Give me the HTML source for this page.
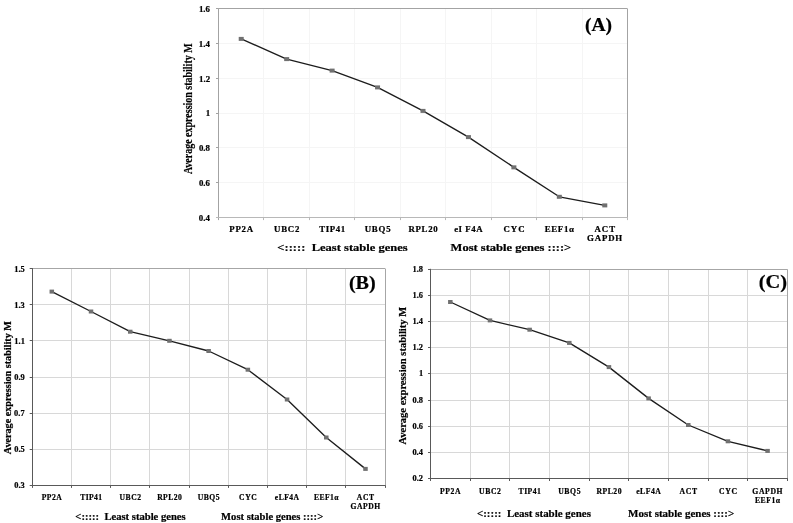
<!DOCTYPE html>
<html><head><meta charset="utf-8"><style>
html,body{margin:0;padding:0;background:#fff;}
svg{display:block;will-change:transform;}
#w{width:793px;height:523px;}
text{font-family:"Liberation Serif",serif;font-weight:bold;stroke:#000;stroke-width:0.2px;}
</style></head><body>
<div id="w"><svg width="793" height="523" viewBox="0 0 793 523">
<rect width="793" height="523" fill="#fff"/>
<line x1="218.50" y1="43.50" x2="627.50" y2="43.50" stroke="#f5f5f5" stroke-width="1"/>
<line x1="218.50" y1="78.50" x2="627.50" y2="78.50" stroke="#f5f5f5" stroke-width="1"/>
<line x1="218.50" y1="113.50" x2="627.50" y2="113.50" stroke="#f5f5f5" stroke-width="1"/>
<line x1="218.50" y1="147.50" x2="627.50" y2="147.50" stroke="#f5f5f5" stroke-width="1"/>
<line x1="218.50" y1="182.50" x2="627.50" y2="182.50" stroke="#f5f5f5" stroke-width="1"/>
<line x1="263.50" y1="8.75" x2="263.50" y2="217.60" stroke="#f5f5f5" stroke-width="1"/>
<line x1="309.50" y1="8.75" x2="309.50" y2="217.60" stroke="#f5f5f5" stroke-width="1"/>
<line x1="354.50" y1="8.75" x2="354.50" y2="217.60" stroke="#f5f5f5" stroke-width="1"/>
<line x1="400.50" y1="8.75" x2="400.50" y2="217.60" stroke="#f5f5f5" stroke-width="1"/>
<line x1="445.50" y1="8.75" x2="445.50" y2="217.60" stroke="#f5f5f5" stroke-width="1"/>
<line x1="491.50" y1="8.75" x2="491.50" y2="217.60" stroke="#f5f5f5" stroke-width="1"/>
<line x1="536.50" y1="8.75" x2="536.50" y2="217.60" stroke="#f5f5f5" stroke-width="1"/>
<line x1="582.50" y1="8.75" x2="582.50" y2="217.60" stroke="#f5f5f5" stroke-width="1"/>
<line x1="218.50" y1="8.50" x2="627.50" y2="8.50" stroke="#a3a3a3" stroke-width="1"/>
<line x1="627.50" y1="8.75" x2="627.50" y2="217.60" stroke="#a3a3a3" stroke-width="1"/>
<line x1="218.50" y1="8.25" x2="218.50" y2="220.10" stroke="#a3a3a3" stroke-width="1"/>
<line x1="216.00" y1="217.50" x2="628.00" y2="217.50" stroke="#b8b8b8" stroke-width="1"/>
<line x1="216.00" y1="8.50" x2="218.50" y2="8.50" stroke="#a3a3a3" stroke-width="1"/>
<line x1="216.00" y1="43.50" x2="218.50" y2="43.50" stroke="#a3a3a3" stroke-width="1"/>
<line x1="216.00" y1="78.50" x2="218.50" y2="78.50" stroke="#a3a3a3" stroke-width="1"/>
<line x1="216.00" y1="113.50" x2="218.50" y2="113.50" stroke="#a3a3a3" stroke-width="1"/>
<line x1="216.00" y1="147.50" x2="218.50" y2="147.50" stroke="#a3a3a3" stroke-width="1"/>
<line x1="216.00" y1="182.50" x2="218.50" y2="182.50" stroke="#a3a3a3" stroke-width="1"/>
<line x1="263.50" y1="217.60" x2="263.50" y2="220.10" stroke="#b8b8b8" stroke-width="1"/>
<line x1="309.50" y1="217.60" x2="309.50" y2="220.10" stroke="#b8b8b8" stroke-width="1"/>
<line x1="354.50" y1="217.60" x2="354.50" y2="220.10" stroke="#b8b8b8" stroke-width="1"/>
<line x1="400.50" y1="217.60" x2="400.50" y2="220.10" stroke="#b8b8b8" stroke-width="1"/>
<line x1="445.50" y1="217.60" x2="445.50" y2="220.10" stroke="#b8b8b8" stroke-width="1"/>
<line x1="491.50" y1="217.60" x2="491.50" y2="220.10" stroke="#b8b8b8" stroke-width="1"/>
<line x1="536.50" y1="217.60" x2="536.50" y2="220.10" stroke="#b8b8b8" stroke-width="1"/>
<line x1="582.50" y1="217.60" x2="582.50" y2="220.10" stroke="#b8b8b8" stroke-width="1"/>
<line x1="627.50" y1="217.60" x2="627.50" y2="220.10" stroke="#b8b8b8" stroke-width="1"/>
<path d="M241.22,38.90 L286.67,59.10 L332.11,70.60 L377.56,87.40 L423.00,110.90 L468.44,137.10 L513.89,167.35 L559.33,196.80 L604.78,205.40" fill="none" stroke="#1c1c1c" stroke-width="1.35" stroke-linejoin="round"/>
<rect x="238.72" y="36.90" width="5" height="4" fill="#707070"/>
<rect x="284.17" y="57.10" width="5" height="4" fill="#707070"/>
<rect x="329.61" y="68.60" width="5" height="4" fill="#707070"/>
<rect x="375.06" y="85.40" width="5" height="4" fill="#707070"/>
<rect x="420.50" y="108.90" width="5" height="4" fill="#707070"/>
<rect x="465.94" y="135.10" width="5" height="4" fill="#707070"/>
<rect x="511.39" y="165.35" width="5" height="4" fill="#707070"/>
<rect x="556.83" y="194.80" width="5" height="4" fill="#707070"/>
<rect x="602.28" y="203.40" width="5" height="4" fill="#707070"/>
<text transform="translate(198.94,12.06) scale(1.1600,1)" font-size="7.60" fill="#000">1.6</text>
<text transform="translate(198.85,46.87) scale(1.1600,1)" font-size="7.60" fill="#000">1.4</text>
<text transform="translate(199.06,81.67) scale(1.1600,1)" font-size="7.60" fill="#000">1.2</text>
<text transform="translate(205.75,116.48) scale(1.1600,1)" font-size="7.60" fill="#000">1</text>
<text transform="translate(198.97,151.29) scale(1.1600,1)" font-size="7.60" fill="#000">0.8</text>
<text transform="translate(198.94,186.10) scale(1.1600,1)" font-size="7.60" fill="#000">0.6</text>
<text transform="translate(198.85,220.91) scale(1.1600,1)" font-size="7.60" fill="#000">0.4</text>
<text transform="translate(229.27,232.40) scale(1.1600,1)" font-size="7.60" letter-spacing="0.650" fill="#000">PP2A</text>
<text transform="translate(274.05,232.40) scale(1.1600,1)" font-size="7.60" letter-spacing="0.683" fill="#000">UBC2</text>
<text transform="translate(319.30,232.40) scale(1.1600,1)" font-size="7.60" letter-spacing="0.523" fill="#000">TIP41</text>
<text transform="translate(364.64,232.40) scale(1.1600,1)" font-size="7.60" letter-spacing="0.699" fill="#000">UBQ5</text>
<text transform="translate(408.49,232.40) scale(1.1600,1)" font-size="7.60" letter-spacing="0.593" fill="#000">RPL20</text>
<text transform="translate(454.13,232.40) scale(1.1600,1)" font-size="7.60" letter-spacing="0.463" fill="#000">eI F4A</text>
<text transform="translate(503.51,232.40) scale(1.1600,1)" font-size="7.60" letter-spacing="0.822" fill="#000">CYC</text>
<text transform="translate(544.68,232.40) scale(1.1600,1)" font-size="7.60" letter-spacing="0.599" fill="#000">EEF1α</text>
<text transform="translate(594.52,232.40) scale(1.1600,1)" font-size="7.60" letter-spacing="0.840" fill="#000">ACT</text>
<text transform="translate(587.06,241.30) scale(1.1600,1)" font-size="7.60" letter-spacing="0.714" fill="#000">GAPDH</text>
<text transform="translate(191.60,174.10) rotate(-90) scale(0.7924,1)" font-size="12.60" fill="#000">Average expression stability M</text>
<text transform="translate(584.94,31.40) scale(0.9969,1)" font-size="19.60" fill="#000">(A)</text>
<text transform="translate(277.37,250.90) scale(1.2938,1)" font-size="9.70" fill="#000">&lt;:::::  Least stable genes</text>
<text transform="translate(450.59,250.90) scale(1.2892,1)" font-size="9.70" fill="#000">Most stable genes ::::&gt;</text>
<line x1="32.20" y1="304.50" x2="385.10" y2="304.50" stroke="#d8d8d8" stroke-width="1"/>
<line x1="32.20" y1="340.50" x2="385.10" y2="340.50" stroke="#d8d8d8" stroke-width="1"/>
<line x1="32.20" y1="377.50" x2="385.10" y2="377.50" stroke="#d8d8d8" stroke-width="1"/>
<line x1="32.20" y1="413.50" x2="385.10" y2="413.50" stroke="#d8d8d8" stroke-width="1"/>
<line x1="32.20" y1="449.50" x2="385.10" y2="449.50" stroke="#d8d8d8" stroke-width="1"/>
<line x1="71.50" y1="268.60" x2="71.50" y2="485.40" stroke="#d8d8d8" stroke-width="1"/>
<line x1="110.50" y1="268.60" x2="110.50" y2="485.40" stroke="#d8d8d8" stroke-width="1"/>
<line x1="149.50" y1="268.60" x2="149.50" y2="485.40" stroke="#d8d8d8" stroke-width="1"/>
<line x1="189.50" y1="268.60" x2="189.50" y2="485.40" stroke="#d8d8d8" stroke-width="1"/>
<line x1="228.50" y1="268.60" x2="228.50" y2="485.40" stroke="#d8d8d8" stroke-width="1"/>
<line x1="267.50" y1="268.60" x2="267.50" y2="485.40" stroke="#d8d8d8" stroke-width="1"/>
<line x1="306.50" y1="268.60" x2="306.50" y2="485.40" stroke="#d8d8d8" stroke-width="1"/>
<line x1="345.50" y1="268.60" x2="345.50" y2="485.40" stroke="#d8d8d8" stroke-width="1"/>
<line x1="32.20" y1="268.50" x2="385.10" y2="268.50" stroke="#a6a6a6" stroke-width="1"/>
<line x1="385.50" y1="268.60" x2="385.50" y2="485.40" stroke="#a6a6a6" stroke-width="1"/>
<line x1="32.50" y1="268.10" x2="32.50" y2="487.90" stroke="#595959" stroke-width="1"/>
<line x1="29.70" y1="485.50" x2="385.60" y2="485.50" stroke="#595959" stroke-width="1"/>
<line x1="29.70" y1="268.50" x2="32.20" y2="268.50" stroke="#595959" stroke-width="1"/>
<line x1="29.70" y1="304.50" x2="32.20" y2="304.50" stroke="#595959" stroke-width="1"/>
<line x1="29.70" y1="340.50" x2="32.20" y2="340.50" stroke="#595959" stroke-width="1"/>
<line x1="29.70" y1="377.50" x2="32.20" y2="377.50" stroke="#595959" stroke-width="1"/>
<line x1="29.70" y1="413.50" x2="32.20" y2="413.50" stroke="#595959" stroke-width="1"/>
<line x1="29.70" y1="449.50" x2="32.20" y2="449.50" stroke="#595959" stroke-width="1"/>
<line x1="71.50" y1="485.40" x2="71.50" y2="487.90" stroke="#595959" stroke-width="1"/>
<line x1="110.50" y1="485.40" x2="110.50" y2="487.90" stroke="#595959" stroke-width="1"/>
<line x1="149.50" y1="485.40" x2="149.50" y2="487.90" stroke="#595959" stroke-width="1"/>
<line x1="189.50" y1="485.40" x2="189.50" y2="487.90" stroke="#595959" stroke-width="1"/>
<line x1="228.50" y1="485.40" x2="228.50" y2="487.90" stroke="#595959" stroke-width="1"/>
<line x1="267.50" y1="485.40" x2="267.50" y2="487.90" stroke="#595959" stroke-width="1"/>
<line x1="306.50" y1="485.40" x2="306.50" y2="487.90" stroke="#595959" stroke-width="1"/>
<line x1="345.50" y1="485.40" x2="345.50" y2="487.90" stroke="#595959" stroke-width="1"/>
<line x1="385.50" y1="485.40" x2="385.50" y2="487.90" stroke="#595959" stroke-width="1"/>
<path d="M51.81,291.60 L91.02,311.50 L130.23,331.70 L169.44,340.80 L208.65,351.00 L247.86,369.70 L287.07,399.50 L326.28,437.50 L365.49,468.90" fill="none" stroke="#1c1c1c" stroke-width="1.35" stroke-linejoin="round"/>
<rect x="49.56" y="289.60" width="4.5" height="4" fill="#707070"/>
<rect x="88.77" y="309.50" width="4.5" height="4" fill="#707070"/>
<rect x="127.98" y="329.70" width="4.5" height="4" fill="#707070"/>
<rect x="167.19" y="338.80" width="4.5" height="4" fill="#707070"/>
<rect x="206.40" y="349.00" width="4.5" height="4" fill="#707070"/>
<rect x="245.61" y="367.70" width="4.5" height="4" fill="#707070"/>
<rect x="284.82" y="397.50" width="4.5" height="4" fill="#707070"/>
<rect x="324.03" y="435.50" width="4.5" height="4" fill="#707070"/>
<rect x="363.24" y="466.90" width="4.5" height="4" fill="#707070"/>
<text transform="translate(14.21,271.58) scale(1.1200,1)" font-size="7.50" fill="#000">1.5</text>
<text transform="translate(14.19,307.71) scale(1.1200,1)" font-size="7.50" fill="#000">1.3</text>
<text transform="translate(14.34,343.84) scale(1.1200,1)" font-size="7.50" fill="#000">1.1</text>
<text transform="translate(14.20,379.98) scale(1.1200,1)" font-size="7.50" fill="#000">0.9</text>
<text transform="translate(14.10,416.11) scale(1.1200,1)" font-size="7.50" fill="#000">0.7</text>
<text transform="translate(14.21,452.24) scale(1.1200,1)" font-size="7.50" fill="#000">0.5</text>
<text transform="translate(14.19,488.38) scale(1.1200,1)" font-size="7.50" fill="#000">0.3</text>
<text transform="translate(41.69,500.00) scale(1.0600,1)" font-size="7.20" letter-spacing="0.470" fill="#000">PP2A</text>
<text transform="translate(80.17,500.00) scale(1.0600,1)" font-size="7.20" letter-spacing="0.379" fill="#000">TIP41</text>
<text transform="translate(119.55,500.00) scale(1.0600,1)" font-size="7.20" letter-spacing="0.494" fill="#000">UBC2</text>
<text transform="translate(157.16,500.00) scale(1.0600,1)" font-size="7.20" letter-spacing="0.429" fill="#000">RPL20</text>
<text transform="translate(197.71,500.00) scale(1.0600,1)" font-size="7.20" letter-spacing="0.506" fill="#000">UBQ5</text>
<text transform="translate(239.07,500.00) scale(1.0600,1)" font-size="7.20" letter-spacing="0.595" fill="#000">CYC</text>
<text transform="translate(274.84,500.00) scale(1.0600,1)" font-size="7.20" letter-spacing="0.423" fill="#000">eLF4A</text>
<text transform="translate(313.88,500.00) scale(1.0600,1)" font-size="7.20" letter-spacing="0.434" fill="#000">EEF1α</text>
<text transform="translate(356.81,500.00) scale(1.0600,1)" font-size="7.20" letter-spacing="0.608" fill="#000">ACT</text>
<text transform="translate(350.50,509.30) scale(1.0600,1)" font-size="7.20" letter-spacing="0.517" fill="#000">GAPDH</text>
<text transform="translate(10.60,454.20) rotate(-90) scale(1.0703,1)" font-size="9.50" fill="#000">Average expression stability M</text>
<text transform="translate(348.91,288.70) scale(1.0182,1)" font-size="19.80" fill="#000">(B)</text>
<text transform="translate(75.37,520.20) scale(1.1301,1)" font-size="9.40" fill="#000">&lt;:::::  Least stable genes</text>
<text transform="translate(221.12,520.20) scale(1.1260,1)" font-size="9.40" fill="#000">Most stable genes ::::&gt;</text>
<line x1="430.50" y1="295.50" x2="787.40" y2="295.50" stroke="#d8d8d8" stroke-width="1"/>
<line x1="430.50" y1="321.50" x2="787.40" y2="321.50" stroke="#d8d8d8" stroke-width="1"/>
<line x1="430.50" y1="347.50" x2="787.40" y2="347.50" stroke="#d8d8d8" stroke-width="1"/>
<line x1="430.50" y1="373.50" x2="787.40" y2="373.50" stroke="#d8d8d8" stroke-width="1"/>
<line x1="430.50" y1="400.50" x2="787.40" y2="400.50" stroke="#d8d8d8" stroke-width="1"/>
<line x1="430.50" y1="426.50" x2="787.40" y2="426.50" stroke="#d8d8d8" stroke-width="1"/>
<line x1="430.50" y1="452.50" x2="787.40" y2="452.50" stroke="#d8d8d8" stroke-width="1"/>
<line x1="470.50" y1="269.30" x2="470.50" y2="478.50" stroke="#d8d8d8" stroke-width="1"/>
<line x1="509.50" y1="269.30" x2="509.50" y2="478.50" stroke="#d8d8d8" stroke-width="1"/>
<line x1="549.50" y1="269.30" x2="549.50" y2="478.50" stroke="#d8d8d8" stroke-width="1"/>
<line x1="589.50" y1="269.30" x2="589.50" y2="478.50" stroke="#d8d8d8" stroke-width="1"/>
<line x1="628.50" y1="269.30" x2="628.50" y2="478.50" stroke="#d8d8d8" stroke-width="1"/>
<line x1="668.50" y1="269.30" x2="668.50" y2="478.50" stroke="#d8d8d8" stroke-width="1"/>
<line x1="708.50" y1="269.30" x2="708.50" y2="478.50" stroke="#d8d8d8" stroke-width="1"/>
<line x1="747.50" y1="269.30" x2="747.50" y2="478.50" stroke="#d8d8d8" stroke-width="1"/>
<line x1="430.50" y1="269.50" x2="787.40" y2="269.50" stroke="#a6a6a6" stroke-width="1"/>
<line x1="787.50" y1="269.30" x2="787.50" y2="478.50" stroke="#a6a6a6" stroke-width="1"/>
<line x1="430.50" y1="268.80" x2="430.50" y2="481.00" stroke="#595959" stroke-width="1"/>
<line x1="428.00" y1="478.50" x2="787.90" y2="478.50" stroke="#595959" stroke-width="1"/>
<line x1="428.00" y1="269.50" x2="430.50" y2="269.50" stroke="#595959" stroke-width="1"/>
<line x1="428.00" y1="295.50" x2="430.50" y2="295.50" stroke="#595959" stroke-width="1"/>
<line x1="428.00" y1="321.50" x2="430.50" y2="321.50" stroke="#595959" stroke-width="1"/>
<line x1="428.00" y1="347.50" x2="430.50" y2="347.50" stroke="#595959" stroke-width="1"/>
<line x1="428.00" y1="373.50" x2="430.50" y2="373.50" stroke="#595959" stroke-width="1"/>
<line x1="428.00" y1="400.50" x2="430.50" y2="400.50" stroke="#595959" stroke-width="1"/>
<line x1="428.00" y1="426.50" x2="430.50" y2="426.50" stroke="#595959" stroke-width="1"/>
<line x1="428.00" y1="452.50" x2="430.50" y2="452.50" stroke="#595959" stroke-width="1"/>
<line x1="470.50" y1="478.50" x2="470.50" y2="481.00" stroke="#595959" stroke-width="1"/>
<line x1="509.50" y1="478.50" x2="509.50" y2="481.00" stroke="#595959" stroke-width="1"/>
<line x1="549.50" y1="478.50" x2="549.50" y2="481.00" stroke="#595959" stroke-width="1"/>
<line x1="589.50" y1="478.50" x2="589.50" y2="481.00" stroke="#595959" stroke-width="1"/>
<line x1="628.50" y1="478.50" x2="628.50" y2="481.00" stroke="#595959" stroke-width="1"/>
<line x1="668.50" y1="478.50" x2="668.50" y2="481.00" stroke="#595959" stroke-width="1"/>
<line x1="708.50" y1="478.50" x2="708.50" y2="481.00" stroke="#595959" stroke-width="1"/>
<line x1="747.50" y1="478.50" x2="747.50" y2="481.00" stroke="#595959" stroke-width="1"/>
<line x1="787.50" y1="478.50" x2="787.50" y2="481.00" stroke="#595959" stroke-width="1"/>
<path d="M450.33,302.00 L489.98,320.40 L529.64,329.70 L569.29,342.90 L608.95,367.10 L648.61,398.40 L688.26,425.00 L727.92,441.30 L767.57,450.90" fill="none" stroke="#1c1c1c" stroke-width="1.35" stroke-linejoin="round"/>
<rect x="448.08" y="300.00" width="4.5" height="4" fill="#707070"/>
<rect x="487.73" y="318.40" width="4.5" height="4" fill="#707070"/>
<rect x="527.39" y="327.70" width="4.5" height="4" fill="#707070"/>
<rect x="567.04" y="340.90" width="4.5" height="4" fill="#707070"/>
<rect x="606.70" y="365.10" width="4.5" height="4" fill="#707070"/>
<rect x="646.36" y="396.40" width="4.5" height="4" fill="#707070"/>
<rect x="686.01" y="423.00" width="4.5" height="4" fill="#707070"/>
<rect x="725.67" y="439.30" width="4.5" height="4" fill="#707070"/>
<rect x="765.32" y="448.90" width="4.5" height="4" fill="#707070"/>
<text transform="translate(412.53,271.81) scale(1.1000,1)" font-size="7.60" fill="#000">1.8</text>
<text transform="translate(412.49,297.96) scale(1.1000,1)" font-size="7.60" fill="#000">1.6</text>
<text transform="translate(412.41,324.11) scale(1.1000,1)" font-size="7.60" fill="#000">1.4</text>
<text transform="translate(412.61,350.26) scale(1.1000,1)" font-size="7.60" fill="#000">1.2</text>
<text transform="translate(418.95,376.41) scale(1.1000,1)" font-size="7.60" fill="#000">1</text>
<text transform="translate(412.53,402.56) scale(1.1000,1)" font-size="7.60" fill="#000">0.8</text>
<text transform="translate(412.49,428.71) scale(1.1000,1)" font-size="7.60" fill="#000">0.6</text>
<text transform="translate(412.41,454.86) scale(1.1000,1)" font-size="7.60" fill="#000">0.4</text>
<text transform="translate(412.61,481.01) scale(1.1000,1)" font-size="7.60" fill="#000">0.2</text>
<text transform="translate(440.03,494.00) scale(1.0700,1)" font-size="7.20" letter-spacing="0.525" fill="#000">PP2A</text>
<text transform="translate(479.11,494.00) scale(1.0700,1)" font-size="7.20" letter-spacing="0.551" fill="#000">UBC2</text>
<text transform="translate(518.60,494.00) scale(1.0700,1)" font-size="7.20" letter-spacing="0.423" fill="#000">TIP41</text>
<text transform="translate(558.16,494.00) scale(1.0700,1)" font-size="7.20" letter-spacing="0.565" fill="#000">UBQ5</text>
<text transform="translate(596.45,494.00) scale(1.0700,1)" font-size="7.20" letter-spacing="0.479" fill="#000">RPL20</text>
<text transform="translate(636.15,494.00) scale(1.0700,1)" font-size="7.20" letter-spacing="0.472" fill="#000">eLF4A</text>
<text transform="translate(679.42,494.00) scale(1.0700,1)" font-size="7.20" letter-spacing="0.678" fill="#000">ACT</text>
<text transform="translate(718.97,494.00) scale(1.0700,1)" font-size="7.20" letter-spacing="0.664" fill="#000">CYC</text>
<text transform="translate(752.31,494.00) scale(1.0700,1)" font-size="7.20" letter-spacing="0.576" fill="#000">GAPDH</text>
<text transform="translate(754.94,503.20) scale(1.0700,1)" font-size="7.20" letter-spacing="0.484" fill="#000">EEF1α</text>
<text transform="translate(406.40,444.51) rotate(-90) scale(0.9550,1)" font-size="11.00" fill="#000">Average expression stability M</text>
<text transform="translate(758.70,287.70) scale(1.0334,1)" font-size="19.80" fill="#000">(C)</text>
<text transform="translate(476.95,517.40) scale(1.0971,1)" font-size="10.00" fill="#000">&lt;:::::  Least stable genes</text>
<text transform="translate(628.11,517.40) scale(1.1013,1)" font-size="10.00" fill="#000">Most stable genes ::::&gt;</text>
</svg></div>
</body></html>
